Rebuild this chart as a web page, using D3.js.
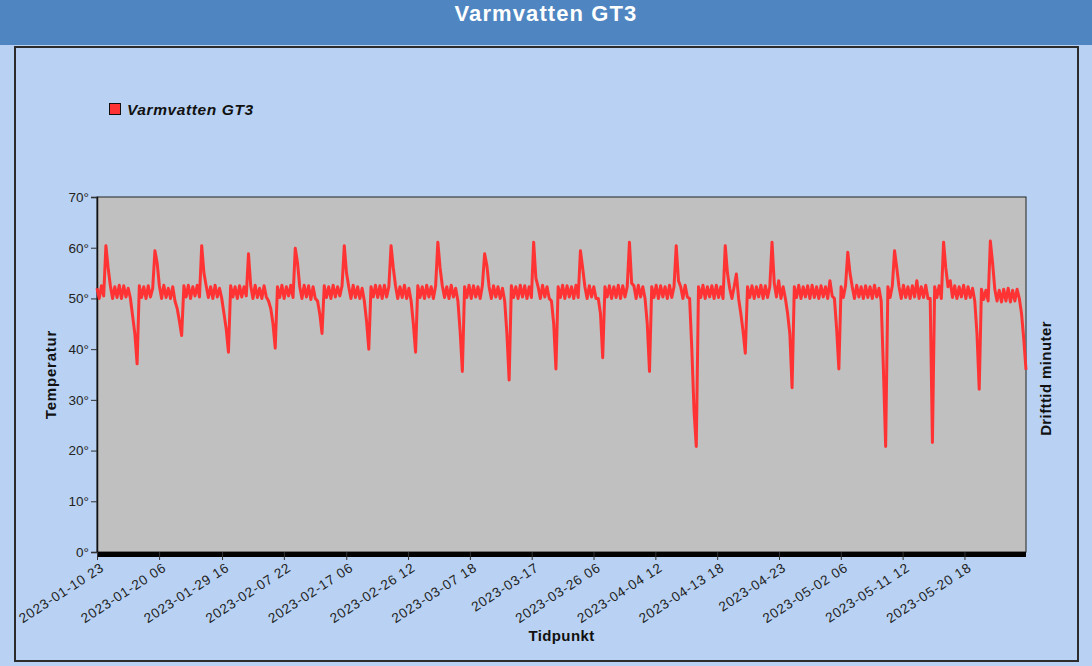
<!DOCTYPE html>
<html>
<head>
<meta charset="utf-8">
<script src="https://d3js.org/d3.v7.min.js"></script>
<style>
  body { margin: 0; background: #b9d2f3; }
  svg { display: block; font-family: "Liberation Sans", Arial, sans-serif; }
</style>
</head>
<body>
<div id="chart"></div>
<script>
// Varmvatten GT3 - one reading every 8 hours from 2023-01-10 23:00
const startTime = "2023-01-10 23";
const stepHours = 8;

const temps = [
  52, 50, 52.5, 50.5, 60.4, 56, 52.5, 50, 52.3, 50.2, 52.6, 50, 52.5, 50.3, 52, 50, 46.5, 43, 37.1, 52.5, 50.2,
  52.3, 50, 52.5, 50.3, 52, 59.4, 57, 52.5, 50, 52.6, 50.2, 52, 50, 52.3, 49.5, 48, 45.5, 42.7, 52.5, 50.3, 52.6,
  50, 52.3, 50.5, 52.6, 50.3, 60.4, 55, 52.5, 50.2, 52.3, 50, 52.6, 50.3, 52, 50, 47, 44, 39.4, 52.5, 50.3, 52.3,
  50, 52.5, 50.3, 52.3, 50.5, 58.8, 52.5, 50, 52.6, 50.2, 52, 50, 52.5, 50.3, 49.5, 48, 45, 40.2, 52.3, 50.2, 52.6,
  50, 52.3, 50.5, 52.6, 50.2, 59.9, 57, 52.3, 50, 52.6, 50.3, 52.5, 49.8, 52.3, 50, 49.5, 47, 43.1, 52.5, 50.2, 52.3,
  50, 52.6, 50.3, 52.3, 50.5, 52.5, 60.4, 55, 52.3, 50, 52.6, 50.2, 52.3, 50, 52, 49.5, 45.5, 40, 52.3, 50.3, 52.6,
  50.2, 52.5, 50, 52.6, 50.3, 52.3, 60.4, 56, 52.5, 50, 52.3, 50.2, 52.6, 50, 52, 49.5, 45, 39.4, 52.5, 50.2, 52.3,
  50, 52.6, 50.3, 52.3, 50, 52.5, 61.1, 56, 52.5, 50.2, 52.3, 50, 52.6, 50.3, 52, 49.5, 43.5, 35.6, 52.3, 50.2, 52.6,
  50, 52.5, 50.3, 52.3, 50, 52.6, 58.8, 56.5, 52.3, 50, 52.5, 50.3, 52.3, 50, 52, 49.5, 43, 33.9, 52.5, 50.2, 52.3,
  50, 52.6, 50.3, 52.5, 50, 52.3, 50.2, 61.1, 54, 52.3, 50, 52.6, 50.3, 52.3, 50, 49.5, 45, 36.1, 52.3, 50.2, 52.6,
  50, 52.5, 50.3, 52.3, 50, 52.6, 50.2, 59.4, 56, 52.3, 50, 52.5, 50.3, 52.3, 50, 50, 47, 38.3, 52.3, 50.3, 52.5,
  50, 52.3, 50.2, 52.6, 50, 52.5, 50.3, 52.3, 61.1, 53, 52.5, 50, 52.6, 50.3, 52.3, 50, 45, 35.6, 52.3, 50.2, 52.6,
  50, 52.5, 50.3, 52.3, 50, 52.6, 50.2, 52.3, 60.4, 53.5, 52.3, 50, 52.6, 50.3, 50, 40, 27.7, 20.8, 52.3, 50.2, 52.6,
  50, 52.3, 50.3, 52.5, 50, 52.6, 50.2, 52.3, 50, 60.4, 55, 52, 50, 52.3, 54.8, 50, 47, 43.5, 39.2, 52.3, 50.2,
  52.5, 50, 52.3, 50.3, 52.6, 50, 52.5, 50.2, 52.3, 61.1, 53, 50.3, 53.5, 50, 52.3, 50, 47, 43, 32.4, 52.3, 50.2,
  52.6, 50, 52.3, 50.3, 52.5, 50, 52.6, 50.2, 52.3, 50, 52.5, 50.3, 52.3, 50, 53.5, 50.5, 50, 44, 36.1, 52.3, 50.2,
  52.5, 59.1, 55, 52.3, 50, 52.6, 50.3, 52.3, 50, 52.5, 50.2, 52.3, 50, 52.6, 50.3, 52, 49.5, 36, 20.8, 52.3, 50.2,
  52.5, 59.4, 56, 52.3, 50, 52.6, 50.2, 52.3, 50, 52.5, 50.3, 53.5, 50, 52.3, 50.2, 52.6, 50, 50, 21.6, 52.3, 50.2,
  52.5, 50, 61.1, 56, 52.3, 53.5, 50.2, 52.5, 50, 52.3, 50.3, 52.6, 50, 52.3, 50.2, 52, 49.5, 43, 32.1, 51.8, 49.8,
  51.6, 49.5, 61.3, 57, 51.8, 49.5, 51.6, 49.3, 51.8, 49.5, 52, 49.3, 51.6, 49.5, 51.8, 50, 47, 42, 35.9
];

const tickLabels = [
  "2023-01-10 23", "2023-01-20 06", "2023-01-29 16", "2023-02-07 22", "2023-02-17 06",
  "2023-02-26 12", "2023-03-07 18", "2023-03-17", "2023-03-26 06", "2023-04-04 12",
  "2023-04-13 18", "2023-04-23", "2023-05-02 06", "2023-05-11 12", "2023-05-20 18"
];

const yTicks = [0, 10, 20, 30, 40, 50, 60, 70];

const width = 1092, height = 666;
const plot = { left: 97, right: 1026, top: 197, bottom: 552 };

const parseHour = d3.utcParse("%Y-%m-%d %H");
const parseDay = d3.utcParse("%Y-%m-%d");
const parseLabel = s => parseHour(s) || parseDay(s);

const t0 = parseHour(startTime);
const points = temps.map((v, i) => ({ date: d3.utcHour.offset(t0, i * stepHours), value: v }));
const tickDates = tickLabels.map(parseLabel);

const x = d3.scaleUtc()
  .domain([t0, points[points.length - 1].date])
  .range([plot.left, plot.right]);
const y = d3.scaleLinear()
  .domain([0, 70])
  .range([plot.bottom, plot.top]);

const svg = d3.select("#chart").append("svg")
  .attr("width", width)
  .attr("height", height);

// background + header
svg.append("rect").attr("width", width).attr("height", height).attr("fill", "#b9d2f3");
svg.append("rect").attr("width", width).attr("height", 45).attr("fill", "#4f86c2");
svg.append("text")
  .attr("x", width / 2).attr("y", 21)
  .attr("text-anchor", "middle")
  .attr("fill", "#fff")
  .attr("font-size", 22).attr("font-weight", "bold")
  .attr("letter-spacing", 1.1)
  .text("Varmvatten GT3");

// inner panel
svg.append("rect")
  .attr("x", 15).attr("y", 47).attr("width", 1063).attr("height", 614)
  .attr("fill", "#b9d2f3").attr("stroke", "#2b2b2b").attr("stroke-width", 2);

// legend
svg.append("rect")
  .attr("x", 109.5).attr("y", 103.5).attr("width", 11).attr("height", 11)
  .attr("fill", "#ff3333").attr("stroke", "#111");
svg.append("text")
  .attr("x", 127).attr("y", 115)
  .attr("font-size", 15.5).attr("font-weight", "bold").attr("font-style", "italic")
  .attr("letter-spacing", 0.6)
  .attr("fill", "#111")
  .text("Varmvatten GT3");

// plot area
svg.append("rect")
  .attr("x", plot.left).attr("y", plot.top)
  .attr("width", plot.right - plot.left).attr("height", plot.bottom - plot.top)
  .attr("fill", "#c0c0c0").attr("stroke", "#222").attr("stroke-width", 1);

// y axis
const yAxis = svg.append("g")
  .attr("transform", `translate(${plot.left},0)`)
  .call(d3.axisLeft(y).tickValues(yTicks).tickFormat(d => d + "°").tickSize(6).tickPadding(2));
yAxis.select(".domain").attr("stroke", "#111").attr("stroke-width", 1.5);
yAxis.selectAll(".tick line").attr("stroke", "#333");
yAxis.selectAll("text").attr("font-size", 13.5).attr("fill", "#222")
  .attr("font-family", "Liberation Sans, Arial, sans-serif");

// line
const line = d3.line()
  .x(d => x(d.date))
  .y(d => y(d.value));

svg.append("path")
  .datum(points)
  .attr("fill", "none")
  .attr("stroke", "#ff3333")
  .attr("stroke-width", 3)
  .attr("stroke-linejoin", "round")
  .attr("d", line);

// thick floor bar
svg.append("rect")
  .attr("x", plot.left).attr("y", plot.bottom)
  .attr("width", plot.right - plot.left).attr("height", 5)
  .attr("fill", "#000");

// x axis
const xAxis = svg.append("g")
  .attr("transform", `translate(0,${plot.bottom})`)
  .call(d3.axisBottom(x).tickValues(tickDates).tickFormat((d, i) => tickLabels[i]).tickSize(8));
xAxis.select(".domain").remove();
xAxis.selectAll(".tick line").attr("stroke", "#333");
xAxis.selectAll("text")
  .attr("font-size", 13.5).attr("fill", "#222")
  .attr("letter-spacing", 0.8)
  .attr("font-family", "Liberation Sans, Arial, sans-serif")
  .attr("text-anchor", "end")
  .attr("x", 0).attr("y", 0).attr("dy", "0.35em")
  .attr("transform", "translate(5,14) rotate(-33)");

// axis titles
svg.append("text")
  .attr("x", (plot.left + plot.right) / 2).attr("y", 641)
  .attr("text-anchor", "middle")
  .attr("font-size", 15).attr("font-weight", "bold").attr("fill", "#111")
  .attr("letter-spacing", 0.4)
  .text("Tidpunkt");

svg.append("text")
  .attr("transform", `translate(56,${(plot.top + plot.bottom) / 2}) rotate(-90)`)
  .attr("text-anchor", "middle")
  .attr("font-size", 15).attr("font-weight", "bold").attr("fill", "#111")
  .attr("letter-spacing", 0.8)
  .text("Temperatur");

svg.append("text")
  .attr("transform", `translate(1051,${(plot.top + plot.bottom) / 2 + 4}) rotate(-90)`)
  .attr("text-anchor", "middle")
  .attr("font-size", 15).attr("font-weight", "bold").attr("fill", "#111")
  .attr("letter-spacing", 0.4)
  .text("Drifttid minuter");
</script>
</body>
</html>
